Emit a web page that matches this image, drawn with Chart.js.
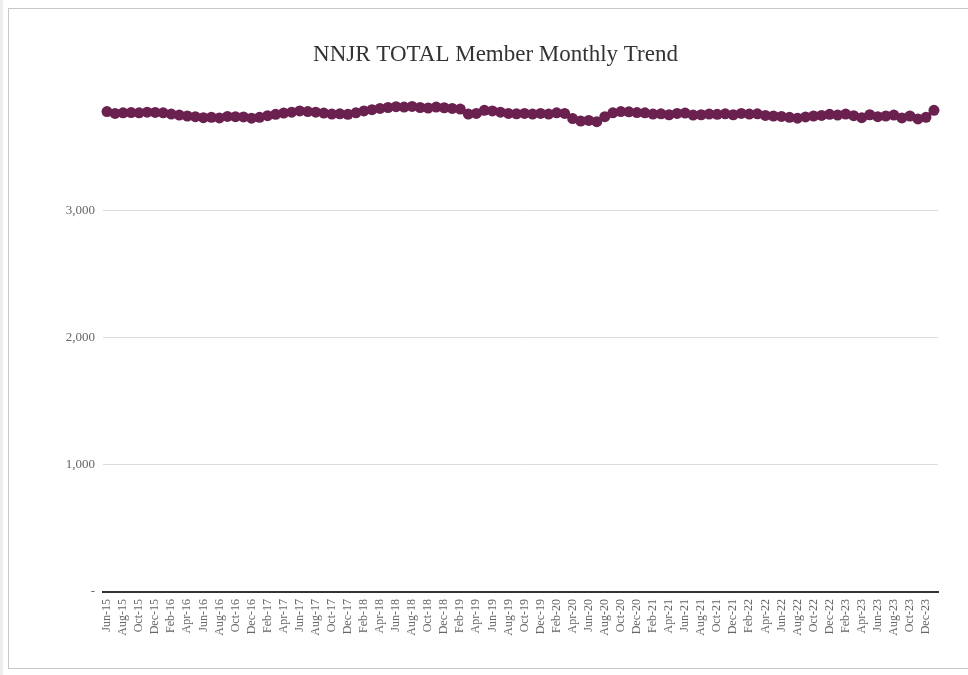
<!DOCTYPE html>
<html>
<head>
<meta charset="utf-8">
<script src="https://cdn.jsdelivr.net/npm/chart.js@4"></script>
<style>
  html, body { margin: 0; padding: 0; background: #fff; overflow: hidden; }
  body { width: 968px; height: 675px; position: relative; }
  .strip { position: absolute; left: 0; top: 0; width: 3px; height: 675px; background: #eee; }
  .frame { position: absolute; left: 8px; top: 8px; width: 1000px; height: 659px; border: 1px solid #c8c8c8; }
  .box { position: absolute; left: 0; top: 0; width: 959px; height: 659px; }
</style>
</head>
<body>
<div class="strip"></div>
<div class="frame">
  <div class="box"><canvas id="trendChart"></canvas></div>
</div>
<script>
const months = [
  'Jun-15','Jul-15','Aug-15','Sep-15','Oct-15','Nov-15','Dec-15',
  'Jan-16','Feb-16','Mar-16','Apr-16','May-16','Jun-16','Jul-16','Aug-16','Sep-16','Oct-16','Nov-16','Dec-16',
  'Jan-17','Feb-17','Mar-17','Apr-17','May-17','Jun-17','Jul-17','Aug-17','Sep-17','Oct-17','Nov-17','Dec-17',
  'Jan-18','Feb-18','Mar-18','Apr-18','May-18','Jun-18','Jul-18','Aug-18','Sep-18','Oct-18','Nov-18','Dec-18',
  'Jan-19','Feb-19','Mar-19','Apr-19','May-19','Jun-19','Jul-19','Aug-19','Sep-19','Oct-19','Nov-19','Dec-19',
  'Jan-20','Feb-20','Mar-20','Apr-20','May-20','Jun-20','Jul-20','Aug-20','Sep-20','Oct-20','Nov-20','Dec-20',
  'Jan-21','Feb-21','Mar-21','Apr-21','May-21','Jun-21','Jul-21','Aug-21','Sep-21','Oct-21','Nov-21','Dec-21',
  'Jan-22','Feb-22','Mar-22','Apr-22','May-22','Jun-22','Jul-22','Aug-22','Sep-22','Oct-22','Nov-22','Dec-22',
  'Jan-23','Feb-23','Mar-23','Apr-23','May-23','Jun-23','Jul-23','Aug-23','Sep-23','Oct-23','Nov-23','Dec-23',
  'Jan-24'
];

const members = [
  3780, 3765, 3770, 3772, 3770, 3775, 3773,
  3770, 3760, 3752, 3745, 3740, 3732, 3735, 3730, 3742, 3740, 3738, 3728,
  3735, 3748, 3758, 3768, 3775, 3785, 3780, 3775, 3768, 3760, 3762, 3758,
  3770, 3785, 3795, 3805, 3812, 3818, 3815, 3820, 3812, 3808, 3815, 3810,
  3805, 3800, 3760, 3765, 3790, 3785, 3775, 3765, 3762, 3765, 3760, 3765,
  3760, 3770, 3765, 3725, 3705, 3710, 3700, 3740, 3770, 3780, 3778, 3772,
  3770, 3760, 3762, 3755, 3765, 3768, 3752, 3755, 3760, 3758, 3762, 3755,
  3765, 3760, 3762, 3750, 3745, 3742, 3735, 3728, 3738, 3745, 3750, 3758,
  3752, 3760, 3748, 3732, 3755, 3740, 3745, 3752, 3730, 3745, 3722, 3735,
  3790
];

const yTicks = [0, 1000, 2000, 3000];

const serif = "'Liberation Serif', 'DejaVu Serif', serif";
const lineColor = '#6b2150';

new Chart(document.getElementById('trendChart'), {
  type: 'line',
  data: {
    labels: months,
    datasets: [{
      label: 'NNJR TOTAL Members',
      data: members,
      borderColor: lineColor,
      backgroundColor: lineColor,
      borderWidth: 4,
      pointRadius: 5.5,
      pointBorderWidth: 0,
      tension: 0
    }]
  },
  options: {
    responsive: true,
    maintainAspectRatio: false,
    animation: false,
    // left padding pushes the title centre right, y scale width compensates
    layout: { padding: { left: 44, right: 30, top: 0, bottom: 0 } },
    plugins: {
      legend: { display: false },
      tooltip: { enabled: false },
      title: {
        display: true,
        text: 'NNJR TOTAL Member Monthly Trend',
        color: '#333',
        font: { family: serif, size: 23, weight: 'normal' },
        padding: { top: 32, bottom: 15 }
      }
    },
    scales: {
      x: {
        offset: true,
        grid: { display: false, drawTicks: false },
        border: { display: true, color: '#333', width: 2 },
        ticks: {
          autoSkip: false,
          minRotation: 90,
          maxRotation: 90,
          padding: 7,
          color: '#666',
          font: { family: serif, size: 12 },
          callback: function (value, index) {
            return index % 2 === 0 ? this.getLabelForValue(value) : '';
          }
        },
        afterFit: scale => { scale.height = 76; }
      },
      y: {
        min: 0,
        max: 4000,
        afterBuildTicks: scale => {
          scale.ticks = yTicks.map(v => ({ value: v }));
        },
        grid: { color: '#dcdcdc', drawTicks: false },
        border: { display: false },
        ticks: {
          padding: 8,
          color: '#666',
          font: { family: serif, size: 13 },
          callback: v => v === 0 ? '-' : v.toLocaleString('en-US')
        },
        afterFit: scale => { scale.width = 50; }
      }
    }
  }
});
</script>
</body>
</html>
